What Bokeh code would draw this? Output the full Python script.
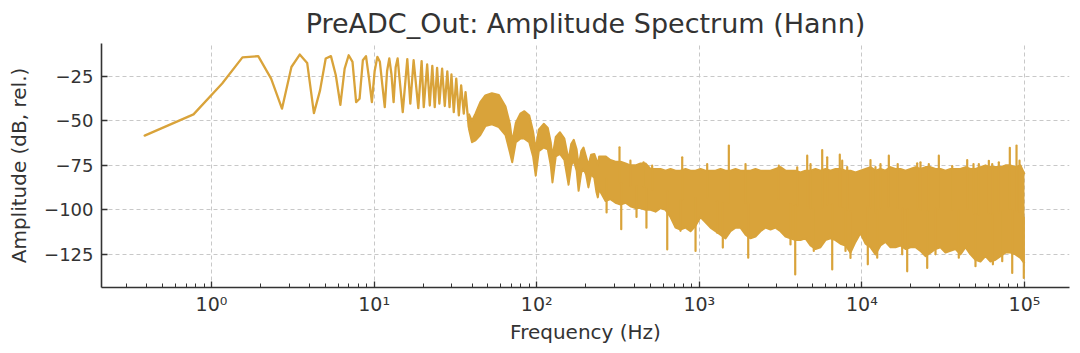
import numpy as np
from bokeh.plotting import figure
from bokeh.models import Range1d, FixedTicker, CustomJSTickFormatter
from bokeh.embed import file_html
from bokeh.resources import INLINE

# ---------------- data ----------------
# low-frequency bins (individual points / lobe peaks and troughs), Hz and dB
lf_freq = [0.388, 0.775, 1.163, 1.550, 1.938, 2.326, 2.713, 3.101, 3.488, 3.876,
           4.264, 4.651, 5.039, 5.426, 5.814, 6.202, 6.589, 6.977, 7.364, 7.752,
           8.140, 8.527, 8.915, 9.302, 9.690, 10.08, 10.47, 10.85, 11.24, 11.63,
           12.02, 12.40, 12.79, 13.18, 13.57, 13.95,
           15.0, 16.0, 16.7, 17.5, 18.7, 19.6, 20.2, 21.2, 22.0, 22.8, 23.6, 24.4,
           25.2, 26.2, 27.2, 28.2, 29.1, 29.9, 30.9, 32.0, 33.2, 34.3, 35.6, 36.5, 38.2]
lf_db = [-58.3, -46.4, -29.1, -14.4, -13.7, -26.3, -43.2, -19.8, -12.8, -17.5,
         -45.7, -32.9, -15.0, -13.7, -24.4, -41.0, -20.7, -13.2, -16.9, -39.5,
         -37.6, -16.0, -13.7, -26.0, -39.5, -22.0, -14.1, -16.9, -30.0, -42.3,
         -22.0, -15.0, -24.0, -39.5, -20.0, -15.0,
         -45.1, -15.4, -40.4, -16.0, -42.9, -16.5, -42.3, -18.4, -41.4, -19.2, -42.3, -20.3,
         -40.4, -20.7, -41.7, -22.2, -42.3, -24.0, -45.1, -26.3, -47.0, -30.1, -46.0, -33.9, -53.6]

# dense part: per-column upper / lower envelope of the spectrum
env_freq = [38.2, 40.0, 42.0, 45.0, 48.3, 53.0, 58.5, 64.3, 68.5, 70.7,
            74.4, 79.3, 84.0, 90.0, 95.0, 98.6, 103, 110.5, 117, 122,
            125, 131, 139, 148, 157, 163, 169, 176, 181, 188,
            194, 201, 208, 216, 226, 233, 237.6, 242,
            247, 265, 284, 305, 328, 352, 377, 405, 435, 467,
            501, 538, 577, 620, 665, 714, 766, 823, 883, 948,
            1017, 1092, 1172, 1258, 1350, 1449, 1556, 1670, 1792, 1924,
            2065, 2216, 2378, 2553, 2740, 2941, 3157, 3388, 3637, 3903,
            4190, 4497, 4828, 5182, 5562, 5970, 6408, 6877, 7383, 7924,
            8506, 9130, 9800, 10518, 11290, 12118, 13007, 13961, 14985, 16084,
            17265, 18532, 19891, 21350, 22917, 24598, 26402, 28339, 30418, 32649,
            35045, 37616, 40376, 43338, 46517, 49930, 53593, 57524, 61745, 66275,
            71137, 76355, 81957, 87970, 94423, 100000]
env_top = [-46, -50, -46, -39.5, -35.7, -34.5, -35.5, -42, -52, -62,
           -51, -46, -44.6, -47, -56, -66, -55, -51.7, -54, -62,
           -70, -59, -56.4, -60, -72, -63, -60.7, -66, -75, -67,
           -65, -70, -75, -69, -68.6, -72, -75, -70,
           -70, -70, -72, -73, -73, -74, -75, -75, -74, -74,
           -77, -77, -77, -78, -77, -78, -78, -77, -78, -78,
           -77, -78, -78, -78, -77, -78, -78, -77, -78, -78,
           -78, -77, -78, -78, -78, -77, -76, -78, -78, -78,
           -79, -78, -78, -77, -78, -77, -78, -77, -77, -78,
           -78, -79, -78, -77, -76, -78, -77, -78, -76, -77,
           -77, -78, -77, -76, -77, -76, -76, -77, -77, -78,
           -77, -77, -77, -76, -77, -77, -76, -75, -76, -76,
           -76, -75, -75, -76, -75, -80]
env_bot = [-54, -62, -61, -58, -53, -52, -53.5, -58, -68, -73.3,
           -62, -60, -60, -62, -70, -80.8, -67, -65, -66, -75,
           -84.6, -70, -68.6, -72, -85.9, -75, -72.4, -78, -89.3, -79,
           -77, -80, -87.4, -80, -82, -90, -93, -88,
           -90, -95, -94, -96, -97, -96, -98, -99, -99, -100,
           -100, -101, -99, -100, -104, -110, -111, -110, -112, -109,
           -104, -107, -110, -112, -114, -116, -112, -110, -110, -114,
           -116, -115, -112, -110, -111, -110, -112, -115, -116, -117,
           -117, -116, -120, -122, -121, -117, -116, -117, -119, -120,
           -124, -118, -113, -119, -121, -125, -120, -118, -121, -121,
           -120, -122, -121, -121, -123, -126, -124, -122, -121, -124,
           -123, -122, -125, -121, -125, -128, -129, -126, -129, -128,
           -126, -124, -124, -125, -127, -130]

# isolated narrow peaks above the band and dips below it
spike_freq = [323, 377, 454, 513, 785, 1118, 1519, 1924, 3083, 4000,
              4609, 4830, 5699, 6118, 7311, 7564, 8120, 11290, 12120, 13007,
              14640, 16600, 21880, 22917, 25790, 29720, 35930, 44420, 48560, 52360,
              60340, 63300, 69500, 81220, 89300, 93160]
spike_db = [-64.9, -72.4, -73.3, -75.2, -70.5, -74.3, -63.9, -74.3, -75.2, -76.2,
            -69.6, -74.3, -66.4, -70.5, -69.0, -72.4, -76.0, -72.0, -76.0, -74.3,
            -69.6, -74.3, -73.9, -73.3, -74.3, -69.6, -75.5, -72.0, -74.3, -74.3,
            -72.5, -74.3, -73.3, -65.2, -63.9, -72.4]
dip_freq = [269, 331, 411, 473, 635, 766, 948, 1288, 1395, 1999,
            3638, 3889, 5058, 6567, 7927, 8506, 10870, 12420, 17690, 18990,
            25210, 28350, 39430, 49950, 63900, 72940, 84030, 99000]
dip_db = [-101.5, -110.9, -104.0, -110.0, -122.2, -111.8, -123.1, -112.8, -121.2, -126.9,
          -119.4, -136.3, -123.1, -133.5, -123.1, -127.0, -130.6, -126.9, -125.0, -134.5,
          -132.6, -125.0, -126.9, -131.6, -130.6, -128.8, -135.4, -138.2]

xtick_values = [1, 10, 100, 1000, 10000, 100000]
xtick_labels = ["10\u2070", "10\u00b9", "10\u00b2", "10\u00b3", "10\u2074", "10\u2075"]
ytick_values = [-125, -100, -75, -50, -25]
ytick_labels = ["\u2212125", "\u2212100", "\u221275", "\u221250", "\u221225"]

# ---------------- styling ----------------
COLOR = "#D9A33A"
TXT = "#333333"
FONT = "DejaVu Sans"
XMIN, XMAX = 0.2106, 189100
YMIN, YMAX = -143.6, -6.6

p = figure(width=1080, height=353, x_axis_type="log",
           x_range=Range1d(XMIN, XMAX), y_range=Range1d(YMIN, YMAX),
           output_backend="svg", toolbar_location=None,
           min_border_left=101, min_border_right=11,
           min_border_top=43, min_border_bottom=66,
           title="PreADC_Out: Amplitude Spectrum (Hann)")
p.outline_line_color = None
p.background_fill_color = "white"
p.border_fill_color = "white"

p.title.align = "center"
p.title.text_font = FONT
p.title.text_font_size = "27px"
p.title.text_font_style = "normal"
p.title.text_color = TXT

minor = [m * 10.0 ** e for e in range(-1, 6) for m in range(2, 10)]
minor = [v for v in minor if XMIN < v < XMAX]
xt = FixedTicker(ticks=xtick_values, minor_ticks=minor)
yt = FixedTicker(ticks=ytick_values)
p.xaxis[0].ticker = xt
p.yaxis[0].ticker = yt
p.xgrid[0].ticker = xt
p.ygrid[0].ticker = yt
code = "const i = vals.indexOf(tick); return i >= 0 ? labs[i] : '';"
p.xaxis[0].formatter = CustomJSTickFormatter(args=dict(vals=xtick_values, labs=xtick_labels), code=code)
p.yaxis[0].formatter = CustomJSTickFormatter(args=dict(vals=ytick_values, labs=ytick_labels), code=code)

p.xaxis.axis_label = "Frequency (Hz)"
p.yaxis.axis_label = "Amplitude (dB, rel.)"
for ax in (p.xaxis[0], p.yaxis[0]):
    ax.axis_line_color = TXT
    ax.axis_line_width = 1.6
    ax.major_tick_line_color = TXT
    ax.major_tick_line_width = 1.3
    ax.major_tick_in = 6
    ax.major_tick_out = 0
    ax.minor_tick_line_color = TXT
    ax.minor_tick_line_width = 1.0
    ax.minor_tick_in = 4
    ax.minor_tick_out = 0
    ax.major_label_text_font = FONT
    ax.major_label_text_font_size = "18px"
    ax.major_label_text_color = TXT
    ax.axis_label_text_font = FONT
    ax.axis_label_text_font_size = "20px"
    ax.axis_label_text_font_style = "normal"
    ax.axis_label_text_color = TXT
p.yaxis[0].minor_tick_line_color = None
p.xaxis[0].major_label_text_font_size = "19px"
p.xaxis[0].major_label_standoff = 5
p.yaxis[0].major_label_standoff = 8
p.xaxis[0].axis_label_standoff = 2
p.yaxis[0].axis_label_standoff = 10

p.grid.grid_line_color = "#c8c8c8"
p.grid.grid_line_width = 1
p.grid.grid_line_dash = "4 3"

# ---------------- glyphs ----------------
p.line(lf_freq, lf_db, line_color=COLOR, line_width=2.3, line_join="round", line_cap="round")
p.varea(x=env_freq, y1=env_bot, y2=env_top, fill_color=COLOR)
p.line(env_freq, env_top, line_color=COLOR, line_width=2.0, line_join="round")
p.line(env_freq, env_bot, line_color=COLOR, line_width=2.0, line_join="round")

lg = np.log10(env_freq)
mid = (np.array(env_top) + np.array(env_bot)) / 2.0
spike_base = np.interp(np.log10(spike_freq), lg, mid)
dip_base = np.interp(np.log10(dip_freq), lg, mid)
p.segment(x0=spike_freq, x1=spike_freq, y0=spike_db, y1=spike_base,
          line_color=COLOR, line_width=2.2, line_cap="round")
p.segment(x0=dip_freq, x1=dip_freq, y0=dip_db, y1=dip_base,
          line_color=COLOR, line_width=2.2, line_cap="round")

open("out.html", "w").write(file_html(p, INLINE))
